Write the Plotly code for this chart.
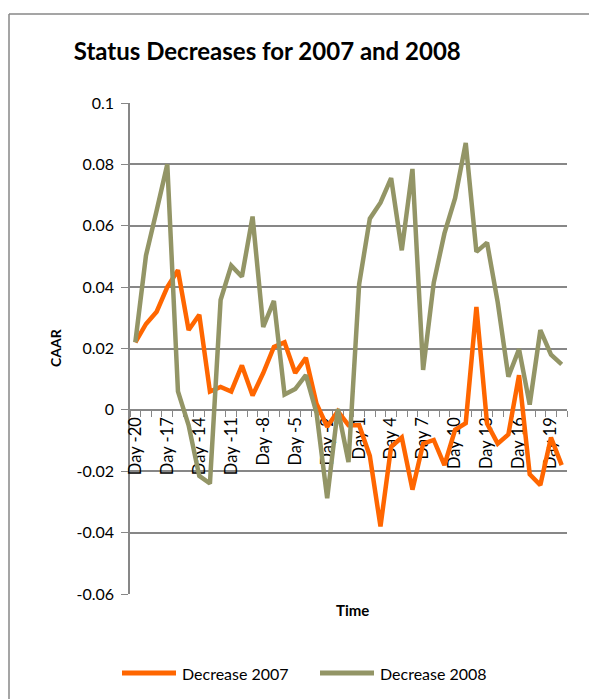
import plotly.graph_objects as go

# Event-window days (Day -20 ... Day 20)
days = [f"Day {d}" for d in range(-20, 21)]
labelled_days = {f"Day {d}" for d in range(-20, 21, 3)}

# Cumulative average abnormal returns
caar_2007 = [0.022, 0.028, 0.032, 0.040, 0.0455, 0.026, 0.031, 0.006, 0.0075, 0.006,
             0.0145, 0.0047, 0.012, 0.0205, 0.022, 0.012, 0.017, 0.002, -0.0055, -0.0005,
             -0.005, -0.005, -0.015, -0.038, -0.012, -0.009, -0.026, -0.011, -0.0098, -0.018,
             -0.0065, -0.0043, 0.0335, -0.0045, -0.011, -0.008, 0.0113, -0.021, -0.0245, -0.009,
             -0.018]
caar_2008 = [0.022, 0.0503, 0.065, 0.080, 0.006, -0.005, -0.0215, -0.024, 0.0358, 0.047,
             0.0434, 0.063, 0.027, 0.0355, 0.005, 0.0068, 0.0113, -0.001, -0.0288, 0.0003,
             -0.017, 0.041, 0.0623, 0.0675, 0.0755, 0.052, 0.0785, 0.013, 0.0415, 0.0575,
             0.069, 0.087, 0.0515, 0.0545, 0.035, 0.0108, 0.0198, 0.0017, 0.026, 0.018,
             0.0148]

series_names = ["Decrease 2007", "Decrease 2008"]

y_ticks = [-0.06, -0.04, -0.02, 0, 0.02, 0.04, 0.06, 0.08, 0.1]
y_tick_text = ["-0.06", "-0.04", "-0.02", "0", "0.02", "0.04", "0.06", "0.08", "0.1"]

ORANGE = "#FF6600"
OLIVE = "#939566"
GRID = "#878787"
FONT = "Lato"

fig = go.Figure()
fig.add_trace(go.Scatter(x=days, y=caar_2007, mode="lines", name=series_names[0],
                         line=dict(color=ORANGE, width=4.5)))
fig.add_trace(go.Scatter(x=days, y=caar_2008, mode="lines", name=series_names[1],
                         line=dict(color=OLIVE, width=4.5)))

y_min, y_max = -0.06, 0.1
zero_pos = (0 - y_min) / (y_max - y_min)

W, H = 590, 700
ML, MR, MT, MB = 130, 23, 103, 106
PW, PH = W - ML - MR, H - MT - MB


def px_x(px):
    return (px - ML) / PW


def px_y(py):
    return (H - MB - py) / PH


# Legend row drawn beneath the chart: sample line plus series name
legend_shapes, legend_notes = [], []
for name, color, x0 in [(series_names[0], ORANGE, 122), (series_names[1], OLIVE, 320)]:
    legend_shapes.append(dict(type="line", xref="paper", yref="paper",
                              x0=px_x(x0), x1=px_x(x0 + 54), y0=px_y(673), y1=px_y(673),
                              line=dict(color=color, width=5)))
    legend_notes.append(dict(text=name, x=px_x(x0 + 58), y=px_y(673), xref="paper",
                             yref="paper", xanchor="left", yanchor="middle",
                             showarrow=False, font=dict(size=16, family=FONT)))

# Outer chart frame: only its top and left edges fall inside the page
frame = [
    dict(type="line", xref="paper", yref="paper", x0=px_x(9), x1=px_x(589),
         y0=px_y(14), y1=px_y(14), line=dict(color=GRID, width=1.5), layer="below"),
    dict(type="line", xref="paper", yref="paper", x0=px_x(9), x1=px_x(9),
         y0=px_y(14), y1=px_y(699), line=dict(color=GRID, width=1.5), layer="below"),
]

fig.update_layout(
    width=W, height=H,
    margin=dict(l=ML, r=MR, t=MT, b=MB, autoexpand=False),
    paper_bgcolor="white", plot_bgcolor="white",
    font=dict(family=FONT, color="black", size=14),
    showlegend=False,
    title=dict(text="<b>Status Decreases for 2007 and 2008</b>", xref="container",
               x=0.453, xanchor="center", yref="container", y=1 - 52 / 700,
               yanchor="middle", font=dict(size=24, family=FONT)),
    xaxis=dict(
        type="category", range=[-0.5, 40.5],
        anchor="free", position=zero_pos,
        tickmode="array", tickvals=days,
        ticktext=[d if d in labelled_days else "" for d in days],
        tickson="boundaries", ticks="outside", ticklen=6, tickcolor=GRID,
        tickangle=-90, tickfont=dict(size=16.5, family=FONT),
        showline=True, linecolor=GRID, linewidth=1.5,
        showgrid=False, zeroline=False, layer="below traces",
    ),
    yaxis=dict(
        range=[y_min, y_max], tickmode="array", tickvals=y_ticks, ticktext=y_tick_text,
        ticks="outside", ticklen=7, tickcolor=GRID, tickfont=dict(size=16, family=FONT),
        ticklabelstandoff=4,
        showline=True, linecolor=GRID, linewidth=1.5,
        showgrid=True, gridcolor=GRID, gridwidth=1.5, zeroline=False,
        layer="below traces",
    ),
    annotations=[
        dict(text="<b>CAAR</b>", x=px_x(55), y=px_y(348), xref="paper", yref="paper",
             xanchor="center", yanchor="middle",
             textangle=-90, showarrow=False, font=dict(size=14, family=FONT)),
        dict(text="<b>Time</b>", x=px_x(352), y=px_y(610), xref="paper", yref="paper",
             xanchor="center", yanchor="middle",
             showarrow=False, font=dict(size=15, family=FONT)),
    ] + legend_notes,
    shapes=frame + legend_shapes,
)

# Keep the page from showing scrollbars around the fixed-size figure
page_css = ("document.documentElement.style.overflow='hidden';"
            "document.body.style.overflow='hidden';"
            "document.body.style.margin='0';")

fig.write_html("out.html", config=dict(displayModeBar=False), post_script=page_css)
